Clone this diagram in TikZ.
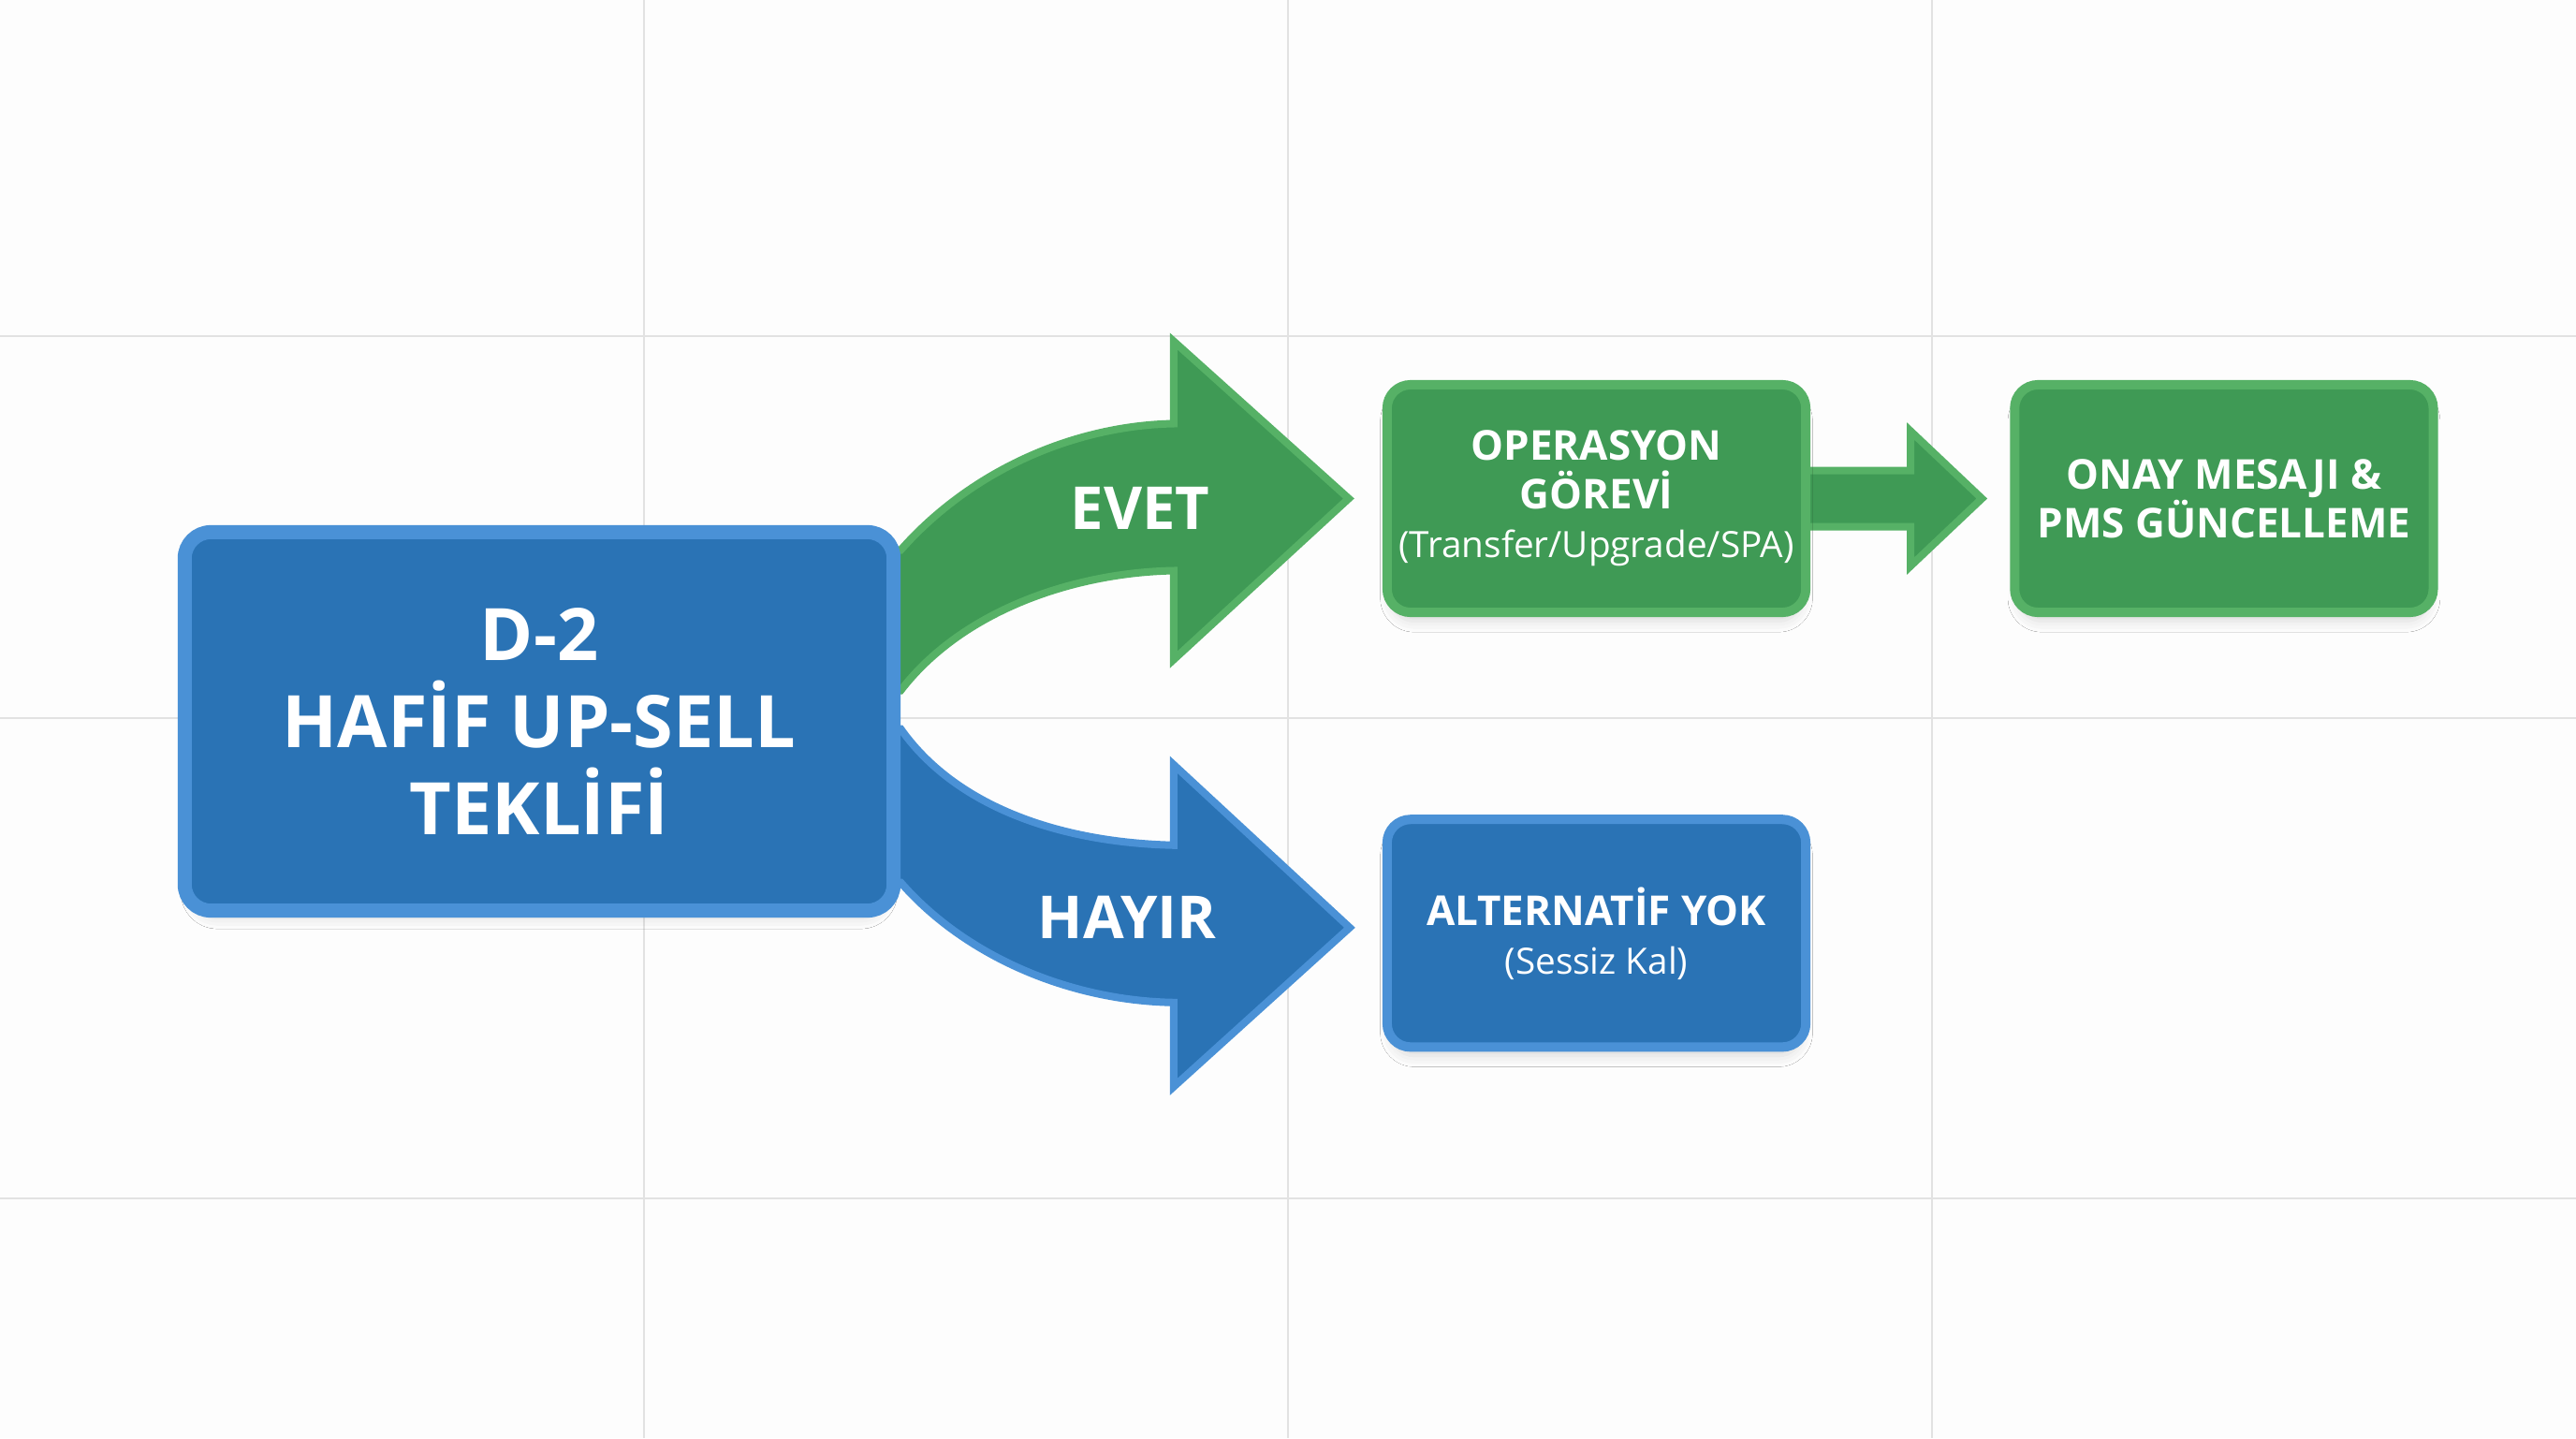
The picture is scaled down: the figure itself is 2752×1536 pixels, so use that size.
\documentclass[tikz,border=0pt]{standalone}
\usepackage{fontspec}
\setmainfont{Open Sans}
\usepackage{tikz}
\usetikzlibrary{positioning,calc,backgrounds,shadows.blur}
\definecolor{blueFill}{HTML}{2A73B5}
\definecolor{blueLine}{HTML}{4A91D6}
\definecolor{greenFill}{HTML}{3F9A55}
\definecolor{greenLine}{HTML}{56B166}
\definecolor{gridGray}{HTML}{E2E2E2}
\definecolor{paper}{HTML}{FDFDFD}
\tikzset{
	every node/.style = {
		shape=rectangle,
		align=center,
		text=white,
		font=\bfseries
	},
	softshadow/.style = {
		blur shadow={shadow xshift=0pt, shadow yshift=-0.12cm, shadow scale=0.98, shadow blur radius=0.12cm, shadow opacity=14}
	},
	decision/.style = {
		draw=blueLine,
		fill=blueFill,
		line width=0.15cm,
		rounded corners=0.28cm,
		minimum width=7.57cm,
		minimum height=4.04cm,
		softshadow,
		font=\bfseries\fontsize{22}{26.5}\selectfont
	},
	yesbox/.style = {
		draw=greenLine,
		fill=greenFill,
		line width=0.1cm,
		rounded corners=0.25cm,
		minimum width=4.47cm,
		minimum height=2.43cm,
		softshadow,
		font=\bfseries\fontsize{12.5}{14.8}\selectfont
	},
	nobox/.style = {
		yesbox,
		draw=blueLine,
		fill=blueFill
	},
	yesarrow/.style = {
		draw=greenLine,
		fill=greenFill,
		line width=0.08cm
	},
	noarrow/.style = {
		draw=blueLine,
		fill=blueFill,
		line width=0.08cm
	},
	answer/.style = {
		font=\bfseries\fontsize{18}{21}\selectfont
	},
	gridline/.style = {
		draw=gridGray,
		line width=0.025cm
	}
}

\begin{document}
\begin{tikzpicture}[x=0.01cm,y=-0.01cm]
	\useasboundingbox (0,0) rectangle (2752,1536);

	\node[decision] (main) at (576,770.5) {D-2\\HAFİF UP-SELL\\TEKLİFİ};
	\node[yesbox] (opbox) at (1705.5,532.5) {OPERASYON\\GÖREVİ\\{\mdseries\fontsize{11}{14.8}\selectfont (Transfer/Upgrade/SPA)}};
	\node[yesbox, right=2.13cm of opbox] (onay) {ONAY MESAJI \&\\PMS GÜNCELLEME};
	\node[nobox, below=2.11cm of opbox] (alt) {ALTERNATİF YOK\\{\mdseries\fontsize{11}{14.8}\selectfont (Sessiz Kal)}};

	\begin{scope}[on background layer]
		\fill[paper] (0,0) rectangle (2752,1536);
		\foreach \gx in {688,1376,2064}
			\draw[gridline] (\gx,0) -- (\gx,1536);
		\foreach \gy in {359,767,1280}
			\draw[gridline] (0,\gy) -- (2752,\gy);

		\filldraw[yesarrow] ($(main.east)+(-30,-183)$) -- ++(30,0)
			.. controls +(77,-87) and +(-104,2) .. ($(opbox.west)+(-223,-80)$)
			-- ++(0,-88) -- ($(opbox.west)+(-36,0)$) -- ($(opbox.west)+(-223,172)$)
			-- ++(0,-95)
			.. controls +(-104,2) and +(67,-87) .. ($(main.east)+(0,-33)$)
			-- ++(-30,0) -- cycle;

		\filldraw[noarrow] ($(main.east)+(-30,8)$) -- ++(30,0)
			.. controls +(58,82) and +(-124,-3) .. ($(alt.west)+(-223,-94)$)
			-- ++(0,-86) -- ($(alt.west)+(-35,-6)$) -- ($(alt.west)+(-223,164)$)
			-- ++(0,-90)
			.. controls +(-114,-2) and +(67,77) .. ($(main.east)+(0,172)$)
			-- ++(-30,0) -- cycle;

		\filldraw[yesarrow] ($(opbox.east)+(-10,-30)$) -- ++(117,0) -- ++(0,-42)
			-- ($(onay.west)+(-30,0)$) -- ($(opbox.east)+(107,72)$) -- ++(0,-42)
			-- ($(opbox.east)+(-10,30)$) -- cycle;
	\end{scope}

	\node[answer] (evet) at (1218,543) {EVET};
	\node[answer] (hayir) at (1204,980) {HAYIR};
\end{tikzpicture}
\end{document}
